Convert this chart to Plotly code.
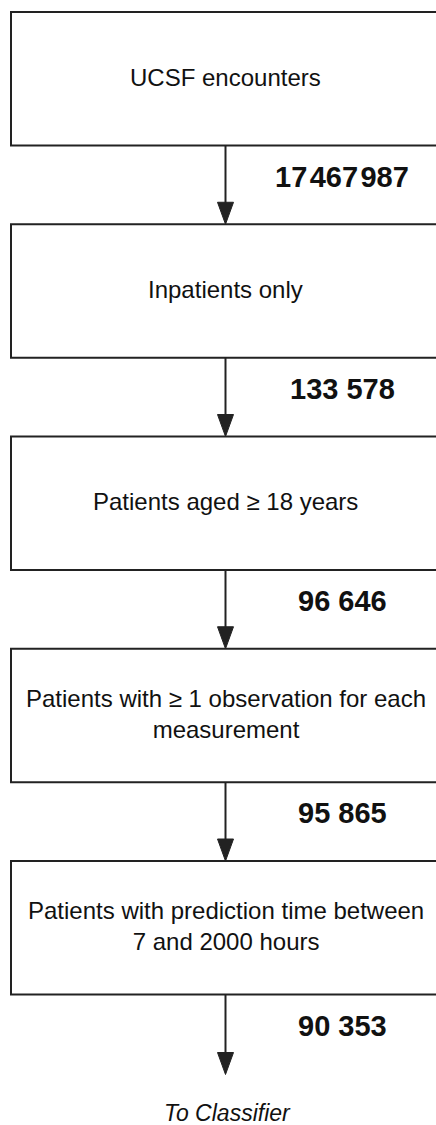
import plotly.graph_objects as go

# ---- data ----
steps = [
    "UCSF encounters",
    "Inpatients only",
    "Patients aged \u2265 18 years",
    "Patients with \u2265 1 observation for each<br>measurement",
    "Patients with prediction time between<br>7 and 2000 hours",
]
counts = [17467987, 133578, 96646, 95865, 90353]
final_label = "To Classifier"

# ---- layout constants (pixels) ----
W, H = 436, 1125
box_left, box_right = 11, W + 1
box_top0, box_step, box_h = 12, 212.25, 133.5
arrow_x = 225.5
head_w, head_h = 16, 22
line_col = "#222222"
font_family = "Liberation Sans, Arial, Helvetica, sans-serif"


def fmt(n):
    s = f"{n:,}"
    sep = "\u200a" if len(str(n)) > 6 else " "
    return s.replace(",", sep)


fig = go.Figure()
shapes = []
annotations = []

for i, (label, n) in enumerate(zip(steps, counts)):
    top = box_top0 + i * box_step
    bot = top + box_h
    # box continues past the right edge of the page: draw top, left, bottom sides only
    shapes.append(dict(type="path", xref="x", yref="y",
                       path=f"M {box_right},{top} L {box_left},{top} L {box_left},{bot} L {box_right},{bot}",
                       line=dict(color=line_col, width=2), layer="below"))
    annotations.append(dict(x=arrow_x, y=(top + bot) / 2 - 1.5, xref="x", yref="y",
                            text=label, showarrow=False,
                            font=dict(family=font_family, size=24, color="#111111"),
                            align="center"))
    tip = bot + (box_step - box_h) if i < len(steps) - 1 else bot + 80
    shapes.append(dict(type="line", xref="x", yref="y",
                       x0=arrow_x, x1=arrow_x, y0=bot, y1=tip - head_h + 2,
                       line=dict(color=line_col, width=2)))
    shapes.append(dict(type="path", xref="x", yref="y",
                       path=f"M {arrow_x - head_w/2},{tip - head_h} L {arrow_x + head_w/2},{tip - head_h} L {arrow_x},{tip} Z",
                       fillcolor=line_col, line=dict(color=line_col, width=1)))
    annotations.append(dict(x=342, y=bot + 31, xref="x", yref="y",
                            text=f"<b>{fmt(n)}</b>", showarrow=False,
                            font=dict(family=font_family, size=29, color="#111111")))

last_bot = box_top0 + (len(steps) - 1) * box_step + box_h
annotations.append(dict(x=arrow_x + 1.5, y=last_bot + 118, xref="x", yref="y",
                        text=f"<i>{final_label}</i>", showarrow=False,
                        font=dict(family=font_family, size=23, color="#111111")))

fig.update_layout(
    width=W, height=H,
    margin=dict(l=0, r=0, t=0, b=0),
    paper_bgcolor="white", plot_bgcolor="white",
    xaxis=dict(visible=False, range=[0, W], fixedrange=True),
    yaxis=dict(visible=False, range=[H, 0], fixedrange=True),
    shapes=shapes, annotations=annotations,
    showlegend=False,
)

fig.write_html("out.html", config={"displayModeBar": False},
               post_script="document.body.style.margin='0';document.body.style.padding='0';")
